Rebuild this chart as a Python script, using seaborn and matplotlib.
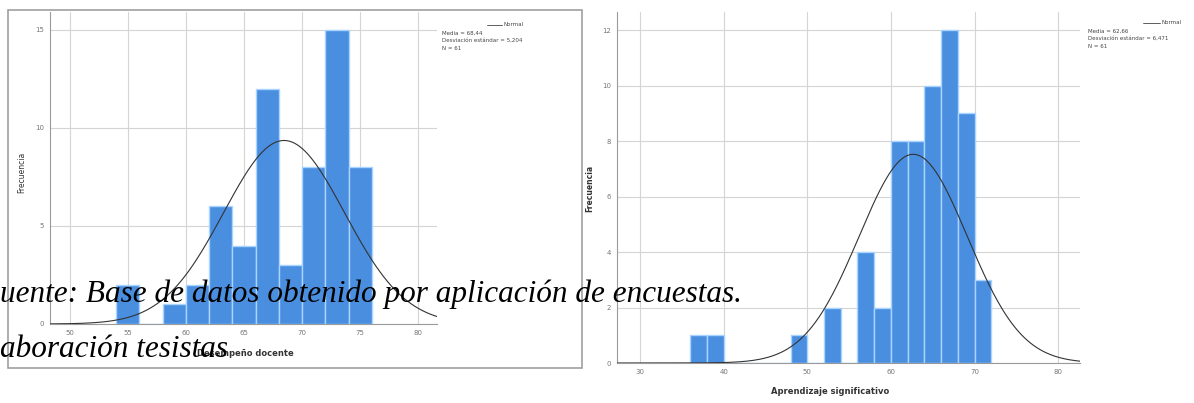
import numpy as np
import pandas as pd
import matplotlib
matplotlib.use("Agg")
import matplotlib.pyplot as plt
from matplotlib.patches import Rectangle
from matplotlib.lines import Line2D
import seaborn as sns

# Desempeño docente: bin starts (width 2) and counts
left_bins = [54, 56, 58, 60, 62, 64, 66, 68, 70, 72, 74]
left_counts = [2, 0, 1, 2, 6, 4, 12, 3, 8, 15, 8]
left_mean, left_sd, left_n = 68.44, 5.204, 61

# Aprendizaje significativo
right_bins = [36, 38, 40, 42, 44, 46, 48, 50, 52, 54, 56, 58, 60, 62, 64, 66, 68, 70]
right_counts = [1, 1, 0, 0, 0, 0, 1, 0, 2, 0, 4, 2, 8, 8, 10, 12, 9, 3]
right_mean, right_sd, right_n = 62.66, 6.471, 61

bar_color = "#4a8ee0"
edge_color = "#a9d4ff"
grid_color = "#d4d4d4"
W, H = 1194, 403

sns.set_style("white")
fig = plt.figure(figsize=(W / 100, H / 100), dpi=100)


def axes_px(x0, y0, x1, y1):
    return fig.add_axes([x0 / W, 1 - y1 / H, (x1 - x0) / W, (y1 - y0) / H])


def draw_hist(ax, bins, counts, mean, sd, n, xlim, ylim, xticks, yticks):
    df = pd.DataFrame({"x": np.array(bins) + 1, "w": counts})
    edges = list(bins) + [bins[-1] + 2]
    sns.histplot(data=df, x="x", weights="w", bins=edges, color=bar_color,
                 alpha=1, edgecolor=edge_color, linewidth=1.0, ax=ax, zorder=3)
    xs = np.linspace(xlim[0], xlim[1], 300)
    ys = n * 2 / (sd * np.sqrt(2 * np.pi)) * np.exp(-0.5 * ((xs - mean) / sd) ** 2)
    sns.lineplot(x=xs, y=ys, color="#333333", linewidth=0.8, ax=ax, zorder=4)
    ax.set_xlim(*xlim)
    ax.set_ylim(*ylim)
    ax.set_xticks(xticks)
    ax.set_yticks(yticks)
    ax.grid(True, color=grid_color, linewidth=0.8, zorder=0)
    ax.set_axisbelow(True)
    for s in ["top", "right"]:
        ax.spines[s].set_visible(False)
    for s in ["left", "bottom"]:
        ax.spines[s].set_color("#9a9a9a")
        ax.spines[s].set_linewidth(0.8)
    ax.tick_params(labelsize=5, colors="#777777", length=1.5, pad=3)
    ax.set_xlabel("")
    ax.set_ylabel("")


# left panel frame
fig.patches.append(Rectangle((8 / W, 1 - 368 / H), 574 / W, 358 / H,
                             transform=fig.transFigure, fill=False,
                             edgecolor="#a0a0a0", linewidth=1.2))

ax1 = axes_px(50, 12, 437, 324)
draw_hist(ax1, left_bins, left_counts, left_mean, left_sd, left_n,
          (48.3, 81.6), (0, 15.9), [50, 55, 60, 65, 70, 75, 80], [0, 5, 10, 15])
fig.text(22 / W, 1 - 172 / H, "Frecuencia", rotation=90, ha="center", va="center",
         fontsize=5.5, color="#333333")
fig.text(245 / W, 1 - 353 / H, "Desempeño docente", ha="center", va="center",
         fontsize=6, color="#333333", fontweight="bold")

ax2 = axes_px(617, 12, 1080, 363)
draw_hist(ax2, right_bins, right_counts, right_mean, right_sd, right_n,
          (27.25, 82.6), (0, 12.65), [30, 40, 50, 60, 70, 80], [0, 2, 4, 6, 8, 10, 12])
fig.text(590 / W, 1 - 188 / H, "Frecuencia", rotation=90, ha="center", va="center",
         fontsize=5.5, color="#333333", fontweight="bold")
fig.text(830 / W, 1 - 392 / H, "Aprendizaje significativo", ha="center", va="center",
         fontsize=6, color="#333333", fontweight="bold")


def legend(xl0, xl1, xt, yl, lines):
    fig.lines.append(Line2D([xl0 / W, xl1 / W], [1 - yl / H, 1 - yl / H],
                            transform=fig.transFigure, color="#444444", linewidth=0.6))
    fig.text((xl1 + 2) / W, 1 - yl / H, "Normal", fontsize=4, va="center", color="#444444")
    for i, t in enumerate(lines):
        fig.text(xt / W, 1 - (yl + 8 + 7.5 * i) / H, t, fontsize=4, va="center",
                 color="#444444")


legend(487, 502, 442, 25, [f"Media = {left_mean:.2f}".replace(".", ","),
                           f"Desviación estándar = {left_sd:.3f}".replace(".", ","),
                           f"N = {left_n}"])
legend(1143, 1160, 1088, 23, [f"Media = {right_mean:.2f}".replace(".", ","),
                              f"Desviación estándar = {right_sd:.3f}".replace(".", ","),
                              f"N = {right_n}"])

# overlay caption text
serif = dict(family="Liberation Serif", style="italic", fontsize=22.5, color="black")
fig.text(0 / W, 1 - 302 / H, "uente: Base de datos obtenido por aplicación de encuestas.",
         va="baseline", ha="left", **serif)
fig.text(0 / W, 1 - 357 / H, "aboración tesistas", va="baseline", ha="left", **serif)

fig.savefig("out.png", dpi=100)
